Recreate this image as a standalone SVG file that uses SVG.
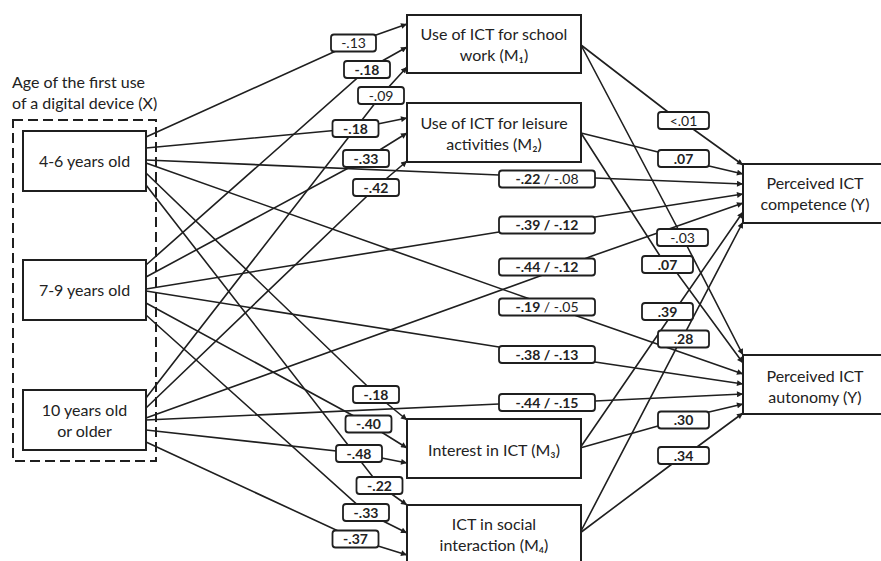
<svg xmlns="http://www.w3.org/2000/svg" width="881" height="561" viewBox="0 0 881 561">
  <style>
    .node { fill: #ffffff; stroke: #1f1f1f; stroke-width: 2; }
    .group { fill: none; stroke: #1f1f1f; stroke-width: 2; stroke-dasharray: 10 5; }
    .conn { fill: none; stroke: #1f1f1f; stroke-width: 1.6; marker-end: url(#arr); }
    .lbl rect { fill: #ffffff; stroke: #1f1f1f; stroke-width: 1.8; }
    text { font-family: Lato, "DejaVu Sans", sans-serif; fill: #222222; }
    .nt { font-size: 16px; text-anchor: middle; }
    .title { font-size: 16px; }
    .lt { font-size: 14px; text-anchor: middle; }
    .b { font-weight: bold; }
  </style>
  <defs>
    <marker id="arr" viewBox="0 0 10 10" refX="10" refY="5" markerWidth="8" markerHeight="6" orient="auto" markerUnits="userSpaceOnUse">
      <path d="M0,0 L10,5 L0,10 z" fill="#1f1f1f"/>
    </marker>
  </defs>
  <rect width="881" height="561" fill="#ffffff"/>

  <!-- predictor group: age of first use -->
  <g id="group-x">
    <text class="title" x="12" y="88">Age of the first use</text>
    <text class="title" x="12" y="109">of a digital device (X)</text>
    <rect class="group" x="13" y="120" width="143" height="341"/>
  </g>

  <!-- paths -->
  <g id="connectors">
    <!-- X to M1 -->
    <path class="conn" d="M146,137 L353.5,43 L407,24"/>
    <path class="conn" d="M146,265 L367,69.5 L407,47"/>
    <path class="conn" d="M146,398 L381,95.5 L407,67"/>
    <!-- X to M2 -->
    <path class="conn" d="M146,148 L355.5,128.5 L407,118"/>
    <path class="conn" d="M146,277 L366,158.5 L407,133"/>
    <path class="conn" d="M146,408 L376,187.5 L407,161"/>
    <!-- X to M3 -->
    <path class="conn" d="M146,173 L376,394.5 L407,420"/>
    <path class="conn" d="M146,303 L368.5,424 L407,448"/>
    <path class="conn" d="M146,430 L359,453.5 L407,463"/>
    <!-- X to M4 -->
    <path class="conn" d="M146,185 L379.5,485.5 L407,505"/>
    <path class="conn" d="M146,315 L366,512.5 L407,533"/>
    <path class="conn" d="M146,442 L355.5,539 L407,555"/>
    <!-- X to Y (competence) -->
    <path class="conn" d="M146,160 L499,175 L595,178 L743,184"/>
    <path class="conn" d="M146,289 L499,232 L595,217 L743,194"/>
    <path class="conn" d="M146,418 L540,276 L592,256 L743,203"/>
    <!-- X to Y (autonomy) -->
    <path class="conn" d="M146,163 L527,298 L577,316 L743,374"/>
    <path class="conn" d="M146,291 L499,347 L595,362 L743,384"/>
    <path class="conn" d="M146,420 L499,404 L595,401 L743,394"/>
    <!-- M to Y -->
    <path class="conn" d="M581,45 L668,112 L693,129 L743,165"/>
    <path class="conn" d="M581,133 L658,152 L709,166 L743,174"/>
    <path class="conn" d="M581,45 L678,229 L687,246 L743,355"/>
    <path class="conn" d="M581,133 L660,256 L677,273 L743,363"/>
    <path class="conn" d="M580,448 L668,320 L680,303 L743,212"/>
    <path class="conn" d="M580,533 L677,347 L686,331 L743,222"/>
    <path class="conn" d="M580,448 L658,426 L709,412 L743,404"/>
    <path class="conn" d="M580,533 L672,464 L697,447 L743,413"/>
  </g>

  <!-- path coefficients -->
  <g id="edge-labels">
    <g class="lbl"><rect x="331" y="34.5" width="45" height="17" rx="3"/><text class="lt" x="353.5" y="48">-.13</text></g>
    <g class="lbl"><rect x="344" y="61" width="46" height="17" rx="3"/><text class="lt b" x="367" y="74.5">-.18</text></g>
    <g class="lbl"><rect x="358" y="87" width="46" height="17" rx="3"/><text class="lt" x="381" y="100.5">-.09</text></g>
    <g class="lbl"><rect x="332.5" y="120" width="46" height="17" rx="3"/><text class="lt b" x="355.5" y="133.5">-.18</text></g>
    <g class="lbl"><rect x="343" y="150" width="46" height="17" rx="3"/><text class="lt b" x="366" y="163.5">-.33</text></g>
    <g class="lbl"><rect x="353" y="179" width="46" height="17" rx="3"/><text class="lt b" x="376" y="192.5">-.42</text></g>

    <g class="lbl"><rect x="499" y="170.5" width="96" height="17" rx="3"/><text class="lt" x="547" y="184"><tspan class="b">-.22</tspan> / -.08</text></g>
    <g class="lbl"><rect x="499" y="216.5" width="96" height="17" rx="3"/><text class="lt b" x="547" y="230">-.39 / -.12</text></g>
    <g class="lbl"><rect x="499" y="258.5" width="96" height="17" rx="3"/><text class="lt b" x="547" y="272">-.44 / -.12</text></g>
    <g class="lbl"><rect x="499" y="298.5" width="96" height="17" rx="3"/><text class="lt" x="547" y="312"><tspan class="b">-.19</tspan> / -.05</text></g>
    <g class="lbl"><rect x="499" y="346" width="96" height="17" rx="3"/><text class="lt b" x="547" y="359.5">-.38 / -.13</text></g>
    <g class="lbl"><rect x="499" y="394" width="96" height="17" rx="3"/><text class="lt b" x="547" y="407.5">-.44 / -.15</text></g>

    <g class="lbl"><rect x="353" y="386" width="46" height="17" rx="3"/><text class="lt b" x="376" y="399.5">-.18</text></g>
    <g class="lbl"><rect x="345.5" y="415.5" width="46" height="17" rx="3"/><text class="lt b" x="368.5" y="429">-.40</text></g>
    <g class="lbl"><rect x="336" y="445" width="46" height="17" rx="3"/><text class="lt b" x="359" y="458.5">-.48</text></g>
    <g class="lbl"><rect x="356.5" y="477" width="46" height="17" rx="3"/><text class="lt b" x="379.5" y="490.5">-.22</text></g>
    <g class="lbl"><rect x="343" y="504" width="46" height="17" rx="3"/><text class="lt b" x="366" y="517.5">-.33</text></g>
    <g class="lbl"><rect x="332.5" y="530.5" width="46" height="17" rx="3"/><text class="lt b" x="355.5" y="544">-.37</text></g>

    <g class="lbl"><rect x="658" y="112" width="51" height="17" rx="3"/><text class="lt" x="683.5" y="125.5">&lt;.01</text></g>
    <g class="lbl"><rect x="658" y="150" width="51" height="17" rx="3"/><text class="lt b" x="683.5" y="163.5">.07</text></g>
    <g class="lbl"><rect x="657" y="229" width="51" height="17" rx="3"/><text class="lt" x="682.5" y="242.5">-.03</text></g>
    <g class="lbl"><rect x="642" y="256" width="51" height="17" rx="3"/><text class="lt b" x="667.5" y="269.5">.07</text></g>
    <g class="lbl"><rect x="642" y="303" width="51" height="17" rx="3"/><text class="lt b" x="667.5" y="316.5">.39</text></g>
    <g class="lbl"><rect x="658" y="330.5" width="51" height="17" rx="3"/><text class="lt b" x="683.5" y="344">.28</text></g>
    <g class="lbl"><rect x="658" y="411.5" width="51" height="17" rx="3"/><text class="lt b" x="683.5" y="425">.30</text></g>
    <g class="lbl"><rect x="658" y="447" width="51" height="17" rx="3"/><text class="lt b" x="683.5" y="460.5">.34</text></g>
  </g>

  <!-- predictors -->
  <g id="x-4-6">
    <rect class="node" x="23" y="131" width="123" height="60"/>
    <text class="nt" x="84.5" y="167">4-6 years old</text>
  </g>
  <g id="x-7-9">
    <rect class="node" x="23" y="260" width="123" height="60"/>
    <text class="nt" x="84.5" y="296">7-9 years old</text>
  </g>
  <g id="x-10-plus">
    <rect class="node" x="23" y="390" width="123" height="60"/>
    <text class="nt" x="84.5" y="416">10 years old</text>
    <text class="nt" x="84.5" y="437">or older</text>
  </g>

  <!-- mediators -->
  <g id="m1">
    <rect class="node" x="407" y="15" width="174" height="58"/>
    <text class="nt" x="494" y="40">Use of ICT for school</text>
    <text class="nt" x="494" y="61">work (M₁)</text>
  </g>
  <g id="m2">
    <rect class="node" x="407" y="103" width="174" height="59"/>
    <text class="nt" x="494" y="129">Use of ICT for leisure</text>
    <text class="nt" x="494" y="150">activities (M₂)</text>
  </g>
  <g id="m3">
    <rect class="node" x="407" y="419" width="174" height="59"/>
    <text class="nt" x="494" y="456">Interest in ICT (M₃)</text>
  </g>
  <g id="m4">
    <rect class="node" x="407" y="505" width="174" height="60"/>
    <text class="nt" x="494" y="530">ICT in social</text>
    <text class="nt" x="494" y="551">interaction (M₄)</text>
  </g>

  <!-- outcomes -->
  <g id="y-competence">
    <rect class="node" x="743" y="164" width="150" height="59"/>
    <text class="nt" x="815" y="189">Perceived ICT</text>
    <text class="nt" x="815" y="210">competence (Y)</text>
  </g>
  <g id="y-autonomy">
    <rect class="node" x="743" y="355" width="150" height="59"/>
    <text class="nt" x="815" y="382">Perceived ICT</text>
    <text class="nt" x="815" y="403">autonomy (Y)</text>
  </g>
</svg>
